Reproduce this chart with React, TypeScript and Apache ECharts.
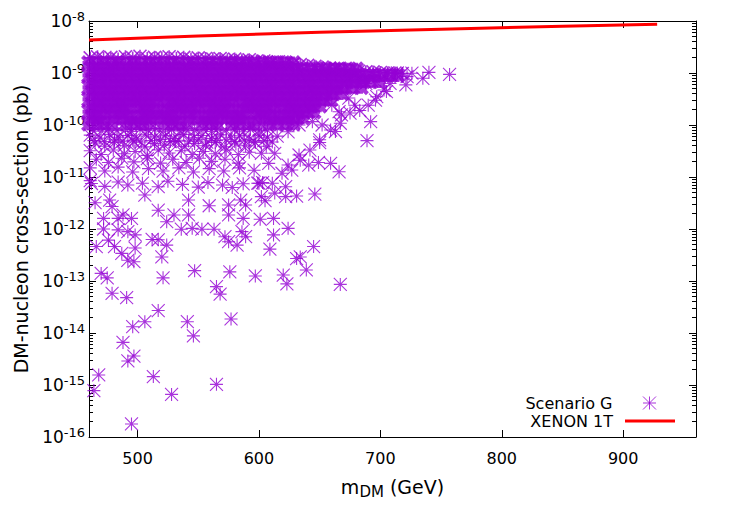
import React, { useEffect, useRef } from "react";
import * as echarts from "echarts";

// ---------- data ----------
const yDecades = [1e-16, 1e-15, 1e-14, 1e-13, 1e-12, 1e-11, 1e-10, 1e-9, 1e-8];
const minorMantissas = [2, 3, 4, 5, 6, 7, 8, 9];

// XENON 1T limit
const xenonMass = [460, 550, 650, 750, 850, 928];
const xenonSigma = [4.3e-9, 5.15e-9, 6.05e-9, 6.95e-9, 7.9e-9, 8.7e-9];

// Scenario G: upper edge of the dense cloud
const scenarioGTop: [number, number][] = [
  [461, 1.95e-9], [467, 2.05e-9], [472, 1.9e-9], [478, 2.0e-9], [484, 1.85e-9], [490, 2.05e-9],
  [496, 1.95e-9], [502, 2.1e-9], [508, 1.9e-9], [514, 2.0e-9], [520, 1.95e-9], [526, 2.05e-9],
  [532, 1.9e-9], [538, 2.0e-9], [544, 1.85e-9], [550, 1.95e-9], [556, 1.9e-9], [562, 1.85e-9],
  [568, 1.9e-9], [574, 1.8e-9], [580, 1.85e-9], [586, 1.75e-9], [592, 1.8e-9], [598, 1.7e-9],
  [604, 1.7e-9], [610, 1.6e-9], [616, 1.65e-9], [622, 1.55e-9], [628, 1.5e-9], [634, 1.45e-9],
  [640, 1.4e-9], [646, 1.35e-9], [652, 1.3e-9], [658, 1.25e-9], [664, 1.2e-9], [670, 1.15e-9],
  [676, 1.12e-9], [682, 1.08e-9], [688, 1.05e-9], [694, 1.05e-9], [700, 1.02e-9], [706, 1.0e-9],
  [712, 1.0e-9], [718, 9.8e-10],
];

// Scenario G: dense core, read row by row (y value, masses)
const coreRowY = [1.55e-9, 1.18e-9, 9.0e-10, 6.9e-10, 5.3e-10, 4.05e-10, 3.1e-10, 2.35e-10, 1.8e-10, 1.38e-10, 1.06e-10];
const coreRowX: number[][] = [
  [460, 466, 472, 479, 484, 491, 497, 503, 510, 515, 522, 528, 534, 541, 546, 553, 559, 565, 572, 577, 584, 590, 596, 603, 609, 615, 622, 628],
  [463, 469, 476, 481, 488, 494, 500, 507, 512, 519, 525, 531, 538, 543, 550, 556, 562, 569, 574, 581, 587, 593, 600, 605, 612, 618, 624, 631, 636, 643, 649, 655, 662, 667, 674, 680],
  [460, 467, 473, 478, 485, 491, 497, 504, 509, 516, 522, 528, 535, 540, 547, 553, 559, 566, 571, 578, 584, 590, 597, 602, 609, 615, 621, 628, 633, 640, 646, 652, 659, 664, 671, 677, 683, 690, 695, 702, 708, 714],
  [463, 469, 475, 482, 487, 494, 500, 506, 513, 518, 525, 531, 537, 544, 549, 556, 562, 568, 575, 580, 587, 593, 599, 606, 611, 618, 624, 630, 637, 642, 649, 655, 661, 668, 673, 680, 686, 692, 699],
  [460, 466, 473, 478, 485, 491, 497, 503, 509, 516, 521, 528, 534, 540, 547, 552, 559, 565, 571, 578, 583, 590, 596, 602, 609, 614, 621, 627, 633, 640, 645, 652, 658, 664, 671, 677, 684],
  [463, 469, 476, 481, 488, 494, 500, 506, 512, 519, 524, 531, 537, 543, 550, 555, 562, 568, 574, 581, 586, 593, 599, 605, 612, 617, 624, 630, 636, 643, 648, 655, 661, 668],
  [460, 467, 472, 479, 485, 491, 498, 503, 510, 516, 522, 529, 534, 541, 547, 553, 560, 565, 572, 578, 584, 591, 596, 603, 609, 615, 622, 627, 634, 640, 646, 653, 659],
  [463, 469, 475, 482, 488, 494, 501, 506, 513, 525, 532, 537, 544, 550, 556, 563, 568, 575, 587, 594, 599, 606, 612, 618, 625, 630, 637, 643, 650],
  [460, 466, 473, 478, 485, 491, 504, 509, 516, 522, 528, 535, 540, 547, 559, 566, 571, 578, 584, 590, 597, 602, 609, 621, 628, 633, 640, 645],
  [463, 469, 481, 488, 494, 500, 507, 512, 519, 525, 531, 543, 550, 556, 562, 569, 574, 581, 587, 600, 605, 612, 618, 624, 631, 636],
  [460, 467, 472, 479, 491, 498, 503, 510, 522, 529, 534, 541, 553, 560, 565, 578, 584, 591, 596, 609, 615, 622, 628],
];

// Scenario G: looser band just below the core (1e-10 .. 1e-11)
const scenarioGBand: [number, number][] = [
  [463, 8.1e-11], [470, 7.6e-11], [476, 8.4e-11], [483, 7.8e-11], [490, 8.3e-11], [495, 7.5e-11], [502, 8.2e-11],
  [509, 7.9e-11], [515, 8.5e-11], [521, 7.6e-11], [528, 8.1e-11], [535, 7.7e-11], [540, 8.4e-11], [547, 7.8e-11],
  [554, 8.2e-11], [561, 7.5e-11], [566, 8.3e-11], [573, 7.9e-11], [580, 8.1e-11], [587, 7.4e-11], [593, 8.2e-11],
  [600, 7.7e-11], [607, 8.0e-11],
  [461, 6.4e-11], [469, 5.6e-11], [477, 6.6e-11], [484, 5.8e-11], [492, 6.3e-11], [499, 5.4e-11], [507, 6.5e-11],
  [514, 5.9e-11], [523, 6.2e-11], [530, 5.5e-11], [538, 6.6e-11], [546, 5.7e-11], [553, 6.3e-11], [561, 5.5e-11],
  [568, 6.5e-11], [577, 5.8e-11], [584, 6.2e-11], [592, 5.3e-11], [600, 6.4e-11], [607, 5.7e-11], [615, 6.1e-11],
  [464, 5.0e-11], [473, 4.8e-11], [481, 5.2e-11], [488, 4.9e-11], [496, 5.1e-11], [503, 4.7e-11], [511, 5.0e-11],
  [519, 5.3e-11], [527, 4.8e-11], [534, 5.1e-11], [542, 4.9e-11], [550, 5.2e-11], [557, 4.7e-11], [565, 5.0e-11],
  [573, 5.2e-11], [580, 4.8e-11], [588, 5.1e-11], [596, 4.9e-11], [604, 5.0e-11], [611, 4.7e-11],
  [465, 4.5e-11], [473, 3.9e-11], [481, 4.6e-11], [489, 4.0e-11], [497, 4.7e-11], [506, 3.8e-11], [514, 4.4e-11],
  [522, 4.1e-11], [531, 4.8e-11], [539, 3.9e-11], [547, 4.4e-11], [556, 4.0e-11], [564, 4.6e-11], [572, 3.8e-11],
  [581, 4.3e-11], [589, 4.0e-11], [597, 4.6e-11], [606, 3.9e-11],
  [461, 3.2e-11], [470, 2.7e-11], [480, 3.3e-11], [489, 2.8e-11], [498, 3.1e-11], [508, 2.6e-11], [517, 3.3e-11],
  [526, 2.9e-11], [536, 3.2e-11], [545, 2.7e-11], [554, 3.1e-11], [564, 2.8e-11], [573, 3.3e-11], [583, 2.7e-11],
  [592, 3.0e-11],
  [466, 2.2e-11], [476, 1.9e-11], [487, 2.3e-11], [497, 1.95e-11], [508, 2.25e-11], [519, 1.85e-11], [529, 2.2e-11],
  [540, 1.9e-11], [551, 2.3e-11], [561, 2.0e-11], [572, 2.2e-11], [583, 1.85e-11],
  [461, 1.5e-11], [473, 1.3e-11], [484, 1.55e-11], [496, 1.25e-11], [509, 1.45e-11], [521, 1.3e-11], [534, 1.5e-11],
  [546, 1.25e-11], [559, 1.45e-11], [571, 1.3e-11], [584, 1.5e-11], [596, 1.35e-11],
];

// Scenario G: individually read points
const scenarioGSparse: [number, number][] = [
  // right edge / tail
  [757, 9.4e-10], [740, 1.03e-9], [735, 7.9e-10], [726, 9.9e-10], [721, 5.9e-10], [722, 8.5e-10],
  [714, 1.0e-9], [708, 6.3e-10], [705, 4.4e-10], [703, 4.7e-10], [697, 3.5e-10], [696, 3.0e-10],
  [690, 2.4e-10], [692, 1.16e-10], [689, 5.0e-11], [688, 6.3e-10], [683, 1.9e-10], [675, 1.7e-10],
  [679, 2.4e-10], [674, 3.3e-10], [668, 1.56e-10], [667, 1.08e-10], [666, 1.8e-10], [660, 2.4e-10],
  [663, 7.5e-11], [659, 8.0e-11], [652, 1.0e-10], [644, 1.16e-10], [650, 5.2e-11], [642, 3.3e-11],
  [633, 1.0e-10], [624, 7.4e-11], [613, 1.56e-10], [602, 1.0e-10],
  // 1e-11 .. 1e-13, right part
  [650, 4.6e-11], [641, 1.7e-11], [649, 1.9e-11], [659, 1.83e-11], [666, 1.26e-11], [634, 2.1e-11],
  [631, 4.3e-12], [646, 4.7e-12], [622, 4.2e-12], [605, 3.5e-12], [601, 1.54e-12], [612, 1.6e-12],
  [624, 1.03e-12], [612, 7.7e-13], [609, 4.1e-13], [645, 4.6e-13], [634, 2.9e-13], [631, 2.7e-13],
  [639, 1.63e-13], [620, 1.3e-13], [623, 8.8e-14], [667, 8.6e-14], [597, 1.25e-13],
  [602, 2.86e-11], [613, 2.86e-11], [608, 1.83e-11], [600, 7.6e-12], [611, 7.6e-12], [622, 6.5e-12],
  [613, 4.9e-12], [602, 4.2e-12], [624, 1.7e-11], [627, 1.36e-11], [619, 1.18e-11], [633, 2.65e-11],
  // band around 7e-12
  [462, 7.5e-12], [473, 6.6e-12], [484, 8.0e-12], [492, 7.0e-12], [504, 7.6e-12], [517, 6.5e-12],
  [525, 8.3e-12], [537, 7.2e-12], [550, 6.4e-12], [558, 7.8e-12], [570, 7.0e-12], [578, 6.3e-12],
  [587, 7.4e-12], [599, 7.6e-12], [461, 8.5e-12], [603, 7.8e-12],
  // 1e-12 .. 1e-13, left part
  [542, 3.6e-12], [559, 2.8e-12], [575, 2.9e-12], [585, 3.6e-12], [589, 2.9e-12], [517, 2.3e-12],
  [506, 4.5e-12], [587, 1.6e-12], [575, 1.86e-12], [542, 1.86e-12], [530, 1.86e-12], [524, 1.38e-12],
  [536, 9.9e-13], [545, 1.03e-12], [553, 9.9e-13], [563, 9.9e-13], [472, 1.0e-12], [484, 9.6e-13],
  [492, 8.9e-13], [498, 7.7e-13], [512, 6.3e-13], [517, 6.2e-13], [524, 4.9e-13], [572, 7.1e-13],
  [575, 5.7e-13], [582, 4.9e-13], [586, 8.9e-13], [589, 7.1e-13], [466, 4.6e-13], [476, 6.1e-13],
  [481, 4.6e-13], [487, 3.4e-13], [492, 2.5e-13], [497, 2.35e-13], [498, 4.3e-13], [520, 2.9e-13],
  [547, 1.58e-13], [576, 1.5e-13], [465, 3.2e-12], [477, 3.6e-12], [479, 2.7e-12], [484, 1.6e-12],
  [488, 1.86e-12], [495, 1.6e-12], [472, 1.6e-12],
  // below 1e-13
  [475, 1.15e-13], [470, 1.4e-13], [521, 1.15e-13], [565, 7.8e-14], [568, 5.6e-14], [479, 5.8e-14],
  [491, 4.8e-14], [517, 2.7e-14], [506, 1.65e-14], [496, 1.32e-14], [541, 1.65e-14], [577, 1.86e-14],
  [546, 8.8e-15], [488, 6.6e-15], [497, 3.6e-15], [492, 2.9e-15], [468, 1.56e-15], [464, 7.8e-16],
  [513, 1.45e-15], [528, 6.6e-16], [565, 1.03e-15], [495, 1.78e-16],
];

// ---------- styling ----------
const PURPLE = "#9400D3";
const STAR = "path://M5 0L5 10M0 5L10 5M0 0L10 10M0 10L10 0";
const FONT = "DejaVu Sans";

const expOf = (v: number) => (v > 0 && v < 1 ? Math.round(Math.log10(v)) : Math.round(v));

export default function App() {
  const ref = useRef<HTMLDivElement>(null);

  useEffect(() => {
    if (!ref.current) return;
    const chart = echarts.init(ref.current, undefined, { renderer: "svg" });

    const minorTicks: number[] = [];
    yDecades.slice(0, -1).forEach((d) => minorMantissas.forEach((m) => minorTicks.push(m * d)));

    const corePoints: [number, number][] = [];
    coreRowY.forEach((y, i) => coreRowX[i].forEach((x) => corePoints.push([x, y])));
    const xenon = xenonMass.map((m, i) => [m, xenonSigma[i]]);

    const axisLine = { show: true, onZero: false, lineStyle: { color: "#000", width: 1 } };
    const xBase = { type: "value", min: 460, max: 960, splitNumber: 5, splitLine: { show: false } };
    const yBase = { type: "log", logBase: 10, min: 1e-16, max: 1e-8, splitLine: { show: false }, minorTick: { show: false } };

    const starSeries = (data: [number, number][], width: number) => ({
      name: "Scenario G",
      type: "scatter",
      xAxisIndex: 0,
      yAxisIndex: 0,
      data,
      symbol: STAR,
      symbolSize: 13,
      itemStyle: { color: PURPLE, borderColor: PURPLE, borderWidth: width },
      z: 2,
    });

    const option: any = {
      animation: false,
      backgroundColor: "#ffffff",
      textStyle: { fontFamily: FONT },
      grid: { left: 89, right: 34, top: 21, bottom: 84, containLabel: false },
      xAxis: [
        {
          ...xBase,
          position: "bottom",
          axisLine,
          axisTick: { show: true, inside: true, length: 7, lineStyle: { color: "#000" } },
          axisLabel: {
            fontSize: 16, color: "#000", margin: 13, fontFamily: FONT,
            showMinLabel: false, showMaxLabel: false,
            formatter: (v: number) => (v % 100 === 0 ? String(v) : ""),
          },
          name: "{a|m}{s|DM}{a| (GeV)}",
          nameLocation: "middle",
          nameGap: 38,
          nameTextStyle: {
            fontFamily: FONT,
            color: "#000",
            rich: {
              a: { fontSize: 19, lineHeight: 24, color: "#000", fontFamily: FONT },
              s: { fontSize: 15, lineHeight: 15, verticalAlign: "bottom", color: "#000", fontFamily: FONT },
            },
          },
        },
        {
          ...xBase,
          position: "top",
          axisLine,
          axisTick: { show: true, inside: true, length: 7, lineStyle: { color: "#000" } },
          axisLabel: { show: false },
        },
      ],
      yAxis: [
        {
          ...yBase,
          position: "left",
          axisLine,
          axisTick: { show: true, inside: true, length: 7, lineStyle: { color: "#000" }, customValues: yDecades },
          axisLabel: {
            customValues: yDecades,
            margin: 4,
            formatter: (v: number) => `{b|10}{e|${expOf(v)}}`,
            rich: {
              b: { fontSize: 17, lineHeight: 22, color: "#000", fontFamily: FONT },
              e: { fontSize: 13, lineHeight: 14, verticalAlign: "top", color: "#000", fontFamily: FONT },
            },
          },
          name: "DM-nucleon cross-section (pb)",
          nameLocation: "middle",
          nameGap: 59,
          nameTextStyle: { fontSize: 19, color: "#000", fontFamily: FONT },
        },
        {
          ...yBase,
          position: "right",
          axisLine,
          axisTick: { show: true, inside: true, length: 7, lineStyle: { color: "#000" }, customValues: yDecades },
          axisLabel: { show: false },
        },
        {
          ...yBase,
          position: "right",
          axisLine: { show: false },
          axisTick: { show: true, inside: true, length: 4, lineStyle: { color: "#000" }, customValues: minorTicks },
          axisLabel: { show: false },
        },
        {
          ...yBase,
          position: "left",
          axisLine: { show: false },
          axisTick: { show: true, inside: true, length: 4, lineStyle: { color: "#000" }, customValues: minorTicks },
          axisLabel: { show: false },
        },
      ],
      legend: [
        {
          data: [{ name: "Scenario G", icon: STAR }],
          orient: "vertical",
          right: 73.5,
          top: 395,
          padding: 0,
          align: "right",
          itemWidth: 50,
          itemHeight: 13,
          symbolKeepAspect: true,
          selectedMode: false,
          itemStyle: { borderWidth: 1, borderColor: PURPLE, color: PURPLE },
          textStyle: { fontSize: 16, color: "#000", fontFamily: FONT, padding: [0, 7, 0, 0] },
        },
        {
          data: [{ name: "XENON 1T", icon: "rect" }],
          orient: "vertical",
          right: 55,
          top: 413,
          padding: 0,
          align: "right",
          itemWidth: 50,
          itemHeight: 3,
          symbolKeepAspect: false,
          selectedMode: false,
          itemStyle: { color: "#ff0000", borderWidth: 0 },
          textStyle: { fontSize: 16, color: "#000", fontFamily: FONT, padding: [0, 7, 0, 0] },
        },
      ],
      series: [
        starSeries(corePoints, 4.2),
        starSeries(scenarioGTop, 1.6),
        starSeries([...scenarioGBand, ...scenarioGSparse], 1.1),
        {
          name: "XENON 1T",
          type: "line",
          xAxisIndex: 0,
          yAxisIndex: 0,
          data: xenon,
          symbol: "none",
          smooth: false,
          lineStyle: { color: "#ff0000", width: 3 },
          itemStyle: { color: "#ff0000" },
          z: 3,
        },
      ],
    };

    chart.setOption(option);
    return () => chart.dispose();
  }, []);

  return <div ref={ref} style={{ width: 730, height: 521, position: "absolute", left: 0, top: 0 }} />;
}
